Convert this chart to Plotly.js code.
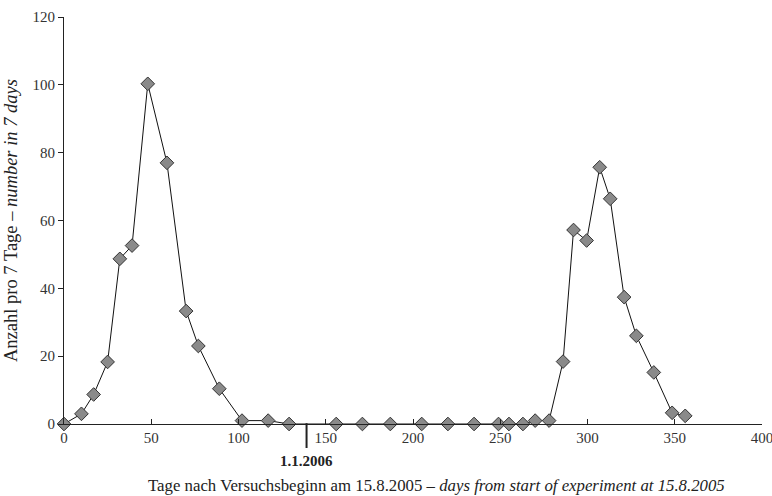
<!DOCTYPE html>
<html>
<head>
<meta charset="utf-8">
<script src="https://cdn.plot.ly/plotly-3.0.1.min.js"></script>
<style>html,body{margin:0;padding:0;background:#fff;}#chart{width:772px;height:496px;}</style>
</head>
<body>
<div id="chart"></div>
<script>
const days = [0, 10, 17, 25, 32, 39, 48, 59, 70, 77, 89, 102, 117, 129,
  156, 171, 187, 205, 220, 235, 249, 255, 263, 270, 278,
  286, 292, 299.5, 307, 313, 321, 328, 338, 348.5, 356];
const counts = [0, 3, 8.7, 18.3, 48.7, 52.6, 100.3, 77, 33.3, 23, 10.4, 1, 1, 0,
  0, 0, 0, 0, 0, 0, 0, 0, 0, 1, 1,
  18.4, 57.2, 54.1, 75.7, 66.4, 37.4, 26, 15.2, 3.3, 2.4];
const xTicks = [0, 50, 100, 150, 200, 250, 300, 350, 400];
const yTicks = [0, 20, 40, 60, 80, 100, 120];
const markerDay = 139;
const markerLabel = '1.1.2006';
const xTitle = 'Tage nach Versuchsbeginn am 15.8.2005 – <i>days from start of experiment at 15.8.2005</i>';
const yTitle = 'Anzahl pro 7 Tage – <i>number in 7 days</i>';

const font = 'Liberation Serif, Times New Roman, serif';

Plotly.newPlot('chart', [{
  x: days, y: counts, type: 'scatter', mode: 'lines+markers',
  line: {color: '#111', width: 1},
  marker: {symbol: 'diamond', size: 10.5, color: '#8a8a8a', line: {color: '#333', width: 1}},
  cliponaxis: false, hoverinfo: 'skip'
}], {
  width: 772, height: 496,
  margin: {l: 64, r: 10, t: 17, b: 72},
  paper_bgcolor: '#fff', plot_bgcolor: '#fff',
  showlegend: false,
  font: {family: font, size: 15, color: '#333'},
  xaxis: {
    range: [0, 400.001], tickvals: xTicks, ticktext: xTicks.map(String),
    ticks: 'inside', ticklen: 5, tickcolor: '#222', tickwidth: 1,
    showline: true, linecolor: '#222', linewidth: 1,
    showgrid: false, zeroline: false, ticklabeloverflow: 'allow',
    tickfont: {family: font, size: 15, color: '#333'}
  },
  yaxis: {
    range: [0, 120], tickvals: yTicks, ticktext: yTicks.map(String),
    ticks: 'outside', ticklen: 5, tickcolor: '#222', tickwidth: 1,
    showline: true, linecolor: '#222', linewidth: 1,
    showgrid: false, zeroline: false,
    tickfont: {family: font, size: 15, color: '#333'},
    title: {text: yTitle, font: {family: font, size: 18.5, color: '#222'}, standoff: 10}
  },
  shapes: [{type: 'line', xref: 'x', yref: 'paper', x0: markerDay, x1: markerDay, y0: 0.002, y1: -0.059,
    line: {color: '#222', width: 2}}],
  annotations: [
    {xref: 'x', yref: 'paper', x: markerDay, y: -0.09, text: '<b>' + markerLabel + '</b>',
      showarrow: false, font: {family: font, size: 15, color: '#222'}, xanchor: 'center', yanchor: 'middle'},
    {xref: 'paper', yref: 'paper', x: 0.534, y: -0.15, text: xTitle,
      showarrow: false, font: {family: font, size: 16.8, color: '#222'}, xanchor: 'center', yanchor: 'middle'}
  ]
}, {staticPlot: true});
</script>
</body>
</html>
